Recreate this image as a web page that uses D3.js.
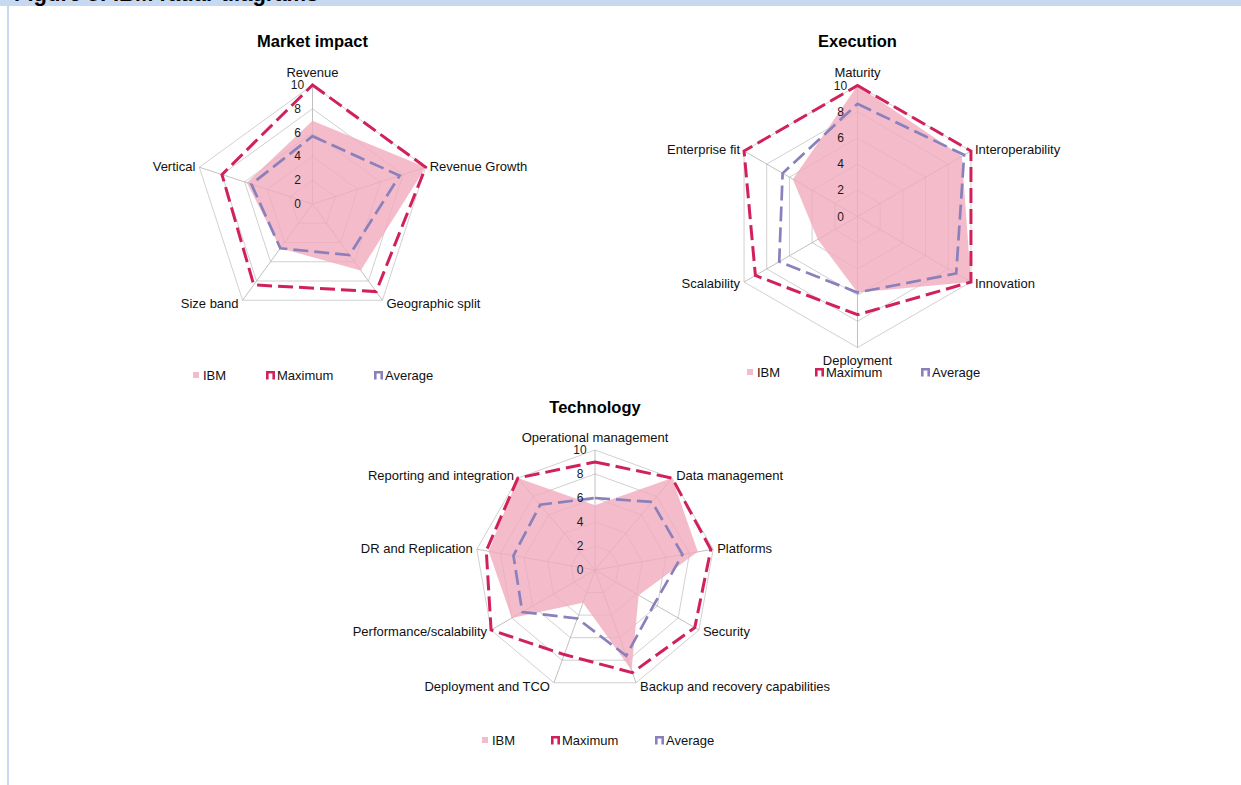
<!DOCTYPE html>
<html><head><meta charset="utf-8">
<script src="https://cdn.jsdelivr.net/npm/d3@7"></script>
<style>body{margin:0;background:#fff}svg{display:block;font-family:"Liberation Sans",Arial,sans-serif}</style>
</head><body><svg id="c" width="1241" height="785"></svg>
<script>
// ---- data ----
const tickValues = [0, 2, 4, 6, 8, 10];
const tickLabels = ["0", "2", "4", "6", "8", "10"];
const seriesNames = ["IBM", "Maximum", "Average"];

const marketAxes = ["Revenue", "Revenue Growth", "Geographic split", "Size band", "Vertical"];
const marketIBM = [7, 10, 6.9, 4.6, 5.8];
const marketMax = [10, 10, 9.1, 8.4, 8];
const marketAvg = [5.7, 7.7, 5.3, 4.6, 5.4];

const execAxes = ["Maturity", "Interoperability", "Innovation", "Deployment", "Scalability", "Enterprise fit"];
const execIBM = [10, 9.2, 10, 5.8, 3.5, 5.7];
const execMax = [10, 10, 10, 7.5, 9, 10];
const execAvg = [8.6, 9.4, 8.7, 5.8, 6.9, 6.6];

const techAxes = ["Operational management", "Data management", "Platforms", "Security",
  "Backup and recovery capabilities", "Deployment and TCO", "Performance/scalability",
  "DR and Replication", "Reporting and integration"];
const techIBM = [5.4, 10, 8.7, 4.2, 8.9, 2.9, 8, 9, 10];
const techMax = [9, 10, 9.8, 9.6, 9.1, 7.5, 10, 9.2, 10];
const techAvg = [6, 7.4, 7.4, 5.7, 7.6, 4.3, 7, 6.9, 7.1];

// ---- styles ----
const C_IBM = "#f1abbd", IBM_OP = 0.8;
const C_MAX = "#d0215a";
const C_AVG = "#8a80bb";
const C_GRID = "#c4c4c4";

const svg = d3.select("#c");

// page frame
svg.append("rect").attr("x", 0).attr("y", 0).attr("width", 1241).attr("height", 6).attr("fill", "#c6d9f0");
svg.append("rect").attr("x", 7).attr("y", 0).attr("width", 2).attr("height", 785).attr("fill", "#c6d9f0");
svg.append("text").attr("x", 14).attr("y", 0.5).attr("font-size", 22).attr("font-weight", "bold")
  .attr("fill", "#000").text("Figure 5: IBM radar diagrams");

function drawRadar(cfg) {
  const n = cfg.axes.length;
  const g = svg.append("g").attr("transform", `translate(${cfg.cx},${cfg.cy})`);
  const rScale = d3.scaleLinear().domain([0, 10]).range([0, cfg.r]);
  const ang = i => i * 2 * Math.PI / n;
  const pt = (i, v) => [Math.sin(ang(i)) * rScale(v), -Math.cos(ang(i)) * rScale(v)];
  const radial = d3.lineRadial().angle((d, i) => ang(i)).radius(d => rScale(d)).curve(d3.curveLinearClosed);

  // rings
  tickValues.filter(t => t > 0).forEach(t => {
    g.append("path").attr("d", radial(d3.range(n).map(() => t)))
      .attr("fill", "none").attr("stroke", C_GRID).attr("stroke-width", 0.8);
  });
  // spokes
  d3.range(n).forEach(i => {
    const [x, y] = pt(i, 10);
    g.append("line").attr("x1", 0).attr("y1", 0).attr("x2", x).attr("y2", y)
      .attr("stroke", "#b0b0b0").attr("stroke-width", 0.8);
  });

  // series
  g.append("path").attr("d", radial(cfg.ibm)).attr("fill", C_IBM).attr("fill-opacity", IBM_OP).attr("stroke", "none");
  g.append("path").attr("d", radial(cfg.max)).attr("fill", "none").attr("stroke", C_MAX)
    .attr("stroke-width", 3).attr("stroke-dasharray", "15,6").attr("stroke-linejoin", "miter");
  g.append("path").attr("d", radial(cfg.avg)).attr("fill", "none").attr("stroke", C_AVG)
    .attr("stroke-width", 2.7).attr("stroke-dasharray", "15,6").attr("stroke-linejoin", "miter");

  // tick labels
  tickValues.forEach((t, k) => {
    g.append("text").attr("x", -cfg.tickDx).attr("y", -rScale(t)).attr("text-anchor", "middle")
      .attr("dominant-baseline", "central").attr("font-size", 12).attr("fill", "#1a1a1a").text(tickLabels[k]);
  });

  // axis labels
  cfg.axes.forEach((name, i) => {
    const a = ang(i), s = Math.sin(a), c = Math.cos(a);
    const [x, y] = pt(i, 10);
    const t = g.append("text").attr("font-size", 13).attr("fill", "#111").attr("dominant-baseline", "central").text(name);
    if (Math.abs(s) < 0.05) {
      t.attr("x", x).attr("y", y + (c > 0 ? -13 : 13)).attr("text-anchor", "middle");
    } else {
      t.attr("x", x + (s > 0 ? 4 : -4)).attr("y", y - 3.5 * c).attr("text-anchor", s > 0 ? "start" : "end");
    }
  });

  // title
  svg.append("text").attr("x", cfg.cx).attr("y", cfg.titleY).attr("text-anchor", "middle")
    .attr("font-size", 16.5).attr("font-weight", "bold").attr("fill", "#000").text(cfg.title);

  // legend
  const ly = cfg.legendY;
  const lg = svg.append("g");
  const [xI, xM, xA] = cfg.legendX;
  lg.append("rect").attr("x", xI).attr("y", ly - 3).attr("width", 6).attr("height", 6).attr("fill", C_IBM).attr("fill-opacity", IBM_OP);
  lg.append("path").attr("d", `M${xM + 1.3},${ly + 4.5}V${ly - 2.7}H${xM + 7.7}V${ly + 4.5}`)
    .attr("fill", "none").attr("stroke", C_MAX).attr("stroke-width", 2.6);
  lg.append("path").attr("d", `M${xA + 1.3},${ly + 4.5}V${ly - 2.7}H${xA + 7.7}V${ly + 4.5}`)
    .attr("fill", "none").attr("stroke", C_AVG).attr("stroke-width", 2.6);
  [[xI + 10, seriesNames[0]], [xM + 11, seriesNames[1]], [xA + 11, seriesNames[2]]].forEach(([x, txt]) => {
    lg.append("text").attr("x", x).attr("y", ly).attr("dominant-baseline", "central")
      .attr("font-size", 13).attr("fill", "#111").text(txt);
  });
}

drawRadar({title: "Market impact", axes: marketAxes, ibm: marketIBM, max: marketMax, avg: marketAvg,
  cx: 312.5, cy: 204, r: 119, tickDx: 15, titleY: 47, legendY: 375, legendX: [193, 266, 374]});
drawRadar({title: "Execution", axes: execAxes, ibm: execIBM, max: execMax, avg: execAvg,
  cx: 857.5, cy: 216.5, r: 131, tickDx: 17, titleY: 47, legendY: 372, legendX: [747, 815, 921]});
drawRadar({title: "Technology", axes: techAxes, ibm: techIBM, max: techMax, avg: techAvg,
  cx: 595, cy: 570, r: 120, tickDx: 15, titleY: 413, legendY: 740, legendX: [482, 551, 655]});
</script></body></html>
